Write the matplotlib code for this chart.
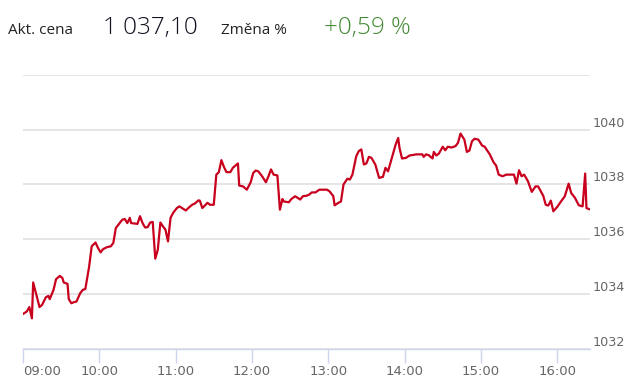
import matplotlib
matplotlib.use("Agg")
import matplotlib.pyplot as plt

# intraday prices (time, price)
times = ["09:00", "09:03", "09:05", "09:07", "09:08", "09:13", "09:15", "09:18", "09:20", "09:21",
         "09:24", "09:26", "09:29", "09:31", "09:32", "09:35", "09:36", "09:38", "09:40", "09:42",
         "09:45", "09:47", "09:49", "09:52", "09:54", "09:57", "09:59", "10:01", "10:03", "10:06",
         "10:09", "10:11", "10:13", "10:16", "10:18", "10:20", "10:22", "10:24", "10:25", "10:28",
         "10:30", "10:32", "10:34", "10:36", "10:38", "10:40", "10:42", "10:44", "10:46", "10:48",
         "10:50", "10:52", "10:54", "10:56", "10:58", "11:01", "11:03", "11:06", "11:08", "11:10",
         "11:13", "11:15", "11:18", "11:19", "11:21", "11:23", "11:25", "11:27", "11:30", "11:32",
         "11:34", "11:36", "11:38", "11:40", "11:43", "11:45", "11:49", "11:50", "11:53", "11:56",
         "11:59", "12:01", "12:03", "12:05", "12:08", "12:11", "12:13", "12:15", "12:17", "12:20",
         "12:22", "12:24", "12:25", "12:29", "12:31", "12:34", "12:36", "12:38", "12:40", "12:43",
         "12:45", "12:47", "12:50", "12:53", "12:59", "13:01", "13:04", "13:05", "13:08", "13:10",
         "13:12", "13:15", "13:17", "13:19", "13:22", "13:24", "13:26", "13:28", "13:30", "13:32",
         "13:34", "13:37", "13:40", "13:43", "13:45", "13:47", "13:50", "13:53", "13:55", "13:56",
         "13:58", "14:01", "14:04", "14:07", "14:09", "14:14", "14:15", "14:17", "14:19", "14:22",
         "14:23", "14:25", "14:27", "14:30", "14:32", "14:34", "14:37", "14:40", "14:42", "14:44",
         "14:47", "14:49", "14:51", "14:53", "14:55", "14:58", "15:01", "15:03", "15:07", "15:10",
         "15:12", "15:14", "15:17", "15:20", "15:23", "15:26", "15:28", "15:30", "15:32", "15:34",
         "15:37", "15:40", "15:43", "15:45", "15:49", "15:51", "15:53", "15:55", "15:57", "16:00",
         "16:03", "16:06", "16:09", "16:11", "16:14", "16:17", "16:20", "16:22", "16:23", "16:25"]
prices = [1033.27, 1033.36, 1033.52, 1033.11, 1034.42, 1033.52, 1033.60, 1033.88, 1033.93, 1033.81,
          1034.15, 1034.54, 1034.66, 1034.58, 1034.42, 1034.37, 1033.81, 1033.66, 1033.70, 1033.72,
          1034.03, 1034.15, 1034.18, 1035.00, 1035.74, 1035.88, 1035.68, 1035.52, 1035.64, 1035.71,
          1035.74, 1035.86, 1036.41, 1036.59, 1036.71, 1036.74, 1036.59, 1036.78, 1036.59, 1036.57,
          1036.56, 1036.84, 1036.59, 1036.43, 1036.44, 1036.61, 1036.63, 1035.29, 1035.62, 1036.61,
          1036.47, 1036.35, 1035.92, 1036.78, 1036.96, 1037.14, 1037.20, 1037.11, 1037.05, 1037.14,
          1037.26, 1037.30, 1037.42, 1037.41, 1037.14, 1037.23, 1037.33, 1037.26, 1037.26, 1038.36,
          1038.45, 1038.89, 1038.64, 1038.45, 1038.45, 1038.61, 1038.77, 1037.96, 1037.93, 1037.81,
          1038.08, 1038.42, 1038.51, 1038.48, 1038.30, 1038.08, 1038.30, 1038.55, 1038.36, 1038.33,
          1037.08, 1037.47, 1037.38, 1037.35, 1037.47, 1037.57, 1037.51, 1037.45, 1037.57, 1037.59,
          1037.63, 1037.71, 1037.71, 1037.81, 1037.81, 1037.75, 1037.57, 1037.24, 1037.33, 1037.38,
          1038.00, 1038.21, 1038.18, 1038.36, 1039.03, 1039.22, 1039.28, 1038.73, 1038.77, 1039.01,
          1038.97, 1038.73, 1038.24, 1038.28, 1038.61, 1038.48, 1038.97, 1039.46, 1039.70, 1039.34,
          1038.95, 1038.97, 1039.06, 1039.08, 1039.10, 1039.10, 1039.01, 1039.10, 1039.07, 1038.95,
          1039.19, 1039.06, 1039.13, 1039.38, 1039.25, 1039.38, 1039.35, 1039.40, 1039.52, 1039.86,
          1039.64, 1039.19, 1039.24, 1039.58, 1039.67, 1039.64, 1039.42, 1039.38, 1039.10, 1038.81,
          1038.69, 1038.36, 1038.30, 1038.36, 1038.36, 1038.36, 1038.03, 1038.52, 1038.30, 1038.36,
          1038.12, 1037.73, 1037.93, 1037.93, 1037.59, 1037.26, 1037.23, 1037.41, 1037.02, 1037.18,
          1037.38, 1037.57, 1038.03, 1037.69, 1037.51, 1037.24, 1037.20, 1038.40, 1037.14, 1037.10]

xtick_labels = ["09:00", "10:00", "11:00", "12:00", "13:00", "14:00", "15:00", "16:00"]
yticks = [1032, 1034, 1036, 1038, 1040, 1042]
ytick_labels = ["1032", "1034", "1036", "1038", "1040", ""]

price_now = "1 037,10"
change = "+0,59 %"


def hours(s):
    h, m = s.split(":")
    return int(h) + int(m) / 60


x = [hours(t) for t in times]

fig = plt.figure(figsize=(6.4, 3.85), dpi=100)
ax = fig.add_axes([23 / 640, 1 - 348.7 / 385, (590 - 23) / 640, (348.7 - 75) / 385])

ax.plot(x, prices, color="#c8001e", lw=1.6, solid_joinstyle="round")

ax.set_xlim(9.0, 16.43)
ax.set_ylim(1032, 1042)

ax.set_yticks(yticks)
ax.set_yticklabels(ytick_labels)
ax.yaxis.tick_right()
ax.grid(axis="y", color="#dedede", lw=1.1)
ax.set_axisbelow(True)
ax.tick_params(axis="y", length=0, pad=1.5, labelsize=9.2, labelcolor="#666666")
for lab in ax.get_yticklabels():
    lab.set_verticalalignment("bottom")

ax.set_xticks([hours(t) for t in xtick_labels])
ax.set_xticklabels(xtick_labels)
ax.tick_params(axis="x", length=10, width=1, color="#ccd6eb", pad=2,
               labelsize=9.5, labelcolor="#666666")
ax.get_xticklabels()[0].set_horizontalalignment("left")

for s in ["top", "left", "right"]:
    ax.spines[s].set_visible(False)
ax.spines["bottom"].set_color("#ccd6eb")
ax.spines["bottom"].set_linewidth(1)

# header
yb = 1 - 34 / 385
fig.text(8 / 640, yb, "Akt. cena", fontsize=11, family="Open Sans", color="#222222", va="baseline")
fig.text(103 / 640, yb, price_now, fontsize=17.5, family="Open Sans", weight="light",
         color="#111122", va="baseline")
fig.text(221 / 640, yb, "Změna %", fontsize=11, family="Open Sans", color="#222222", va="baseline")
fig.text(324 / 640, yb, change, fontsize=17.5, family="Open Sans", weight="light",
         color="#438934", va="baseline")

fig.savefig("out.png", dpi=100)
